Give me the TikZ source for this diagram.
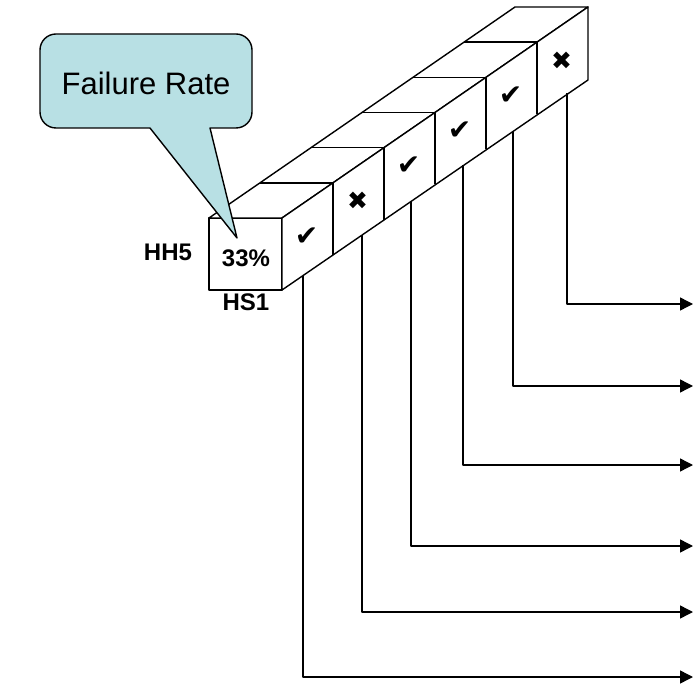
\documentclass[tikz,border=0pt]{standalone}
\usepackage{fontspec}
\setmainfont{Liberation Sans}
\newfontfamily\symfont{DejaVu Sans}
\usetikzlibrary{arrows.meta}
\definecolor{calloutblue}{RGB}{184,224,228}
\tikzset{
  lbl/.style={font=\bfseries\fontsize{24}{28}\selectfont},
  okmark/.style={font=\symfont\fontsize{28}{32}\selectfont},
  badmark/.style={font=\symfont\fontsize{25}{30}\selectfont},
  feed/.style={-{Triangle[length=13pt,width=13pt]}},
}

\begin{document}
\begin{tikzpicture}[x=1pt, y=-1pt, line width=1.4pt, line join=round]
\useasboundingbox (0,0) rectangle (693,684);

\draw[fill=white] (209,218) rectangle (282,290);
\draw[fill=white] (209,218) -- (282,218) -- (588,7) -- (515,7) -- cycle;
\draw[fill=white] (282,218) -- (588,7) -- (588,80) -- (282,290) -- cycle;
\foreach \k in {1,...,5}
  \draw (209+51*\k,218-35.17*\k) -- (282+51*\k,218-35.17*\k) -- (282+51*\k,290-35.17*\k);

\foreach \k/\s/\st in {1/✔/okmark, 2/✖/badmark, 3/✔/okmark, 4/✔/okmark, 5/✔/okmark, 6/✖/badmark}
  \node[\st] (cell\k) at (282+51*\k-26.5,254-35.17*\k+17.6) {\s};

\node[lbl] (hh5) at (168,252) {HH5};
\node[lbl] (rate) at (246,258) {33\%};
\node[lbl] (hs1) at (246,302) {HS1};

\foreach \k/\x/\y in {1/303/677, 2/362/612, 3/411/546, 4/463/465, 5/513/386, 6/567/304} {
  \coordinate (top\k) at (\x,290-0.6896*\x+0.6896*282);
  \coordinate (end\k) at (693,\y);
  \draw[feed] (top\k) |- (end\k);
}

\draw[fill=calloutblue] (150,128) [rounded corners=16pt] -- (40,128) -- (40,34) -- (252,34) -- (252,128) [sharp corners] -- (210,128) -- (237,238) -- cycle;
\node[font=\fontsize{31}{36}\selectfont] (failrate) at (146,83) {Failure Rate};

\end{tikzpicture}
\end{document}
